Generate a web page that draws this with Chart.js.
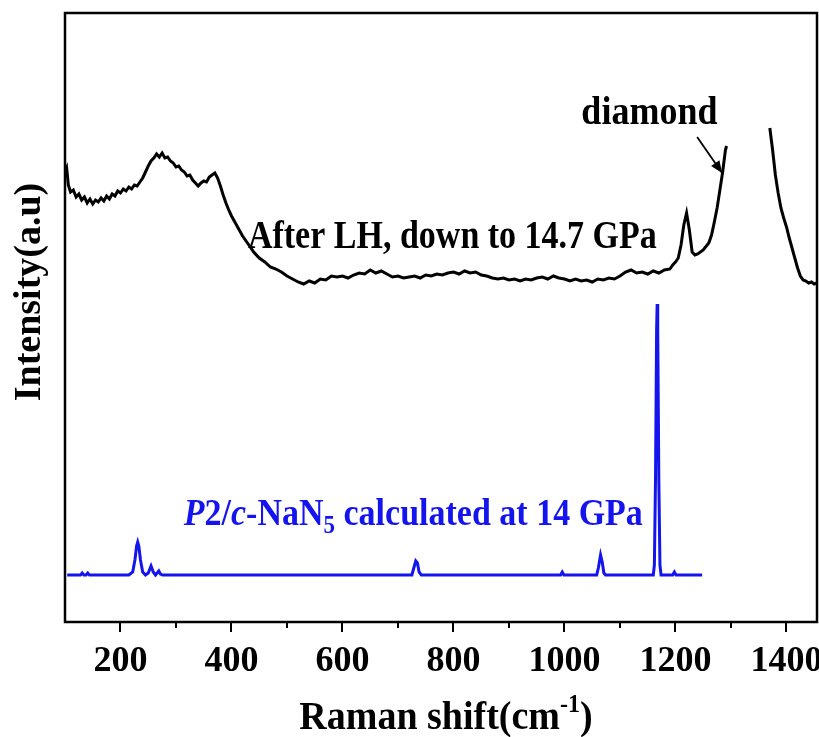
<!DOCTYPE html>
<html><head><meta charset="utf-8">
<script src="https://cdn.jsdelivr.net/npm/chart.js@4/dist/chart.umd.min.js"></script>
<style>html,body{margin:0;padding:0;background:#fff;}</style>
</head><body>
<canvas id="c" width="819" height="737"></canvas>
<script>
// ---- data ----
const X_TICKS = [200, 400, 600, 800, 1000, 1200, 1400];
const X_MINOR = [300, 500, 700, 900, 1100, 1300];

// Experimental spectrum (After LH, down to 14.7 GPa), arbitrary units
const expX = [100,103,106,110,115,120,125,130,135,140,145,150,155,160,165,170,175,180,185,190,195,200,205,210,215,220,225,230,235,240,245,250,255,260,265,270,275,280,285,290,295,300,305,310,315,320,325,330,335,340,345,350,355,360,365,370,375,380,385,390,395,400,410,420,430,440,450,460,470,480,490,500,510,520,530,540,550,560,570,580,590,600,610,620,630,640,650,660,670,680,690,700,710,720,730,740,750,760,770,780,790,800,810,820,830,840,850,860,870,880,890,900,910,920,930,940,950,960,970,980,990,1000,1010,1020,1030,1040,1050,1060,1070,1080,1090,1100,1110,1120,1130,1140,1150,1160,1170,1180,1190,1195,1200,1205,1210,1215,1220,1225,1230,1235,1240,1250,1260,1265,1270,1275,1280,1285,1290,1292,1330,1370,1375,1380,1385,1390,1395,1400,1405,1410,1415,1420,1425,1430,1435,1440,1445,1450,1455];
const expY = [450,454,437,430,432,425,428,422,425,419,423,418,422,420,424,421,426,423,428,426,431,429,433,431,435,433,437,436,440,444,450,456,461,464,468,465,469,464,465,461,459,455,456,452,450,446,447,442,439,436,439,441,440,445,447,449,444,436,427,419,412,406,396,386,378,370,364,360,355,353,350,346,343,340,338,341,339,343,342,346,345,346,344,347,349,348,352,349,351,348,345,346,344,345,346,344,347,346,348,347,349,350,348,351,349,350,347,346,344,343,344,342,343,341,343,342,344,345,343,346,344,343,341,343,341,342,340,343,342,344,343,346,350,352,349,350,348,351,349,352,353,357,360,364,377,397,409,392,370,367,368,372,379,387,400,414,432,450,472,476,null,494,472,447,429,414,404,395,384,374,364,354,346,342,341,339,340,338,339];

// Calculated spectrum (P2/c-NaN5 at 14 GPa), arbitrary units
const calcX = [104,128,131,134,138,141,144,215,222,226,229,231,233,236,240,245,250,255,259,263,266,269,272,276,725,728,732,735,738,742,993,996,999,1058,1061,1065,1068,1071,1074,1160,1162,1164,1166,1167,1168,1170,1172,1174,1195,1198,1201,1248];
const calcY = [47,47,49,47,47,49,47,47,50,62,76,80,76,62,50,47,49,56,50,47,49,51,48,47,47,53,61,59,50,47,47,50,47,47,54,67,60,49,47,47,57,142,292,318,292,142,57,47,47,50,47,47];

const X_MIN = 100, X_MAX = 1455, Y_MIN = 0, Y_MAX = 609;

// ---- chart ----
const SERIF = '"Liberation Serif", "Times New Roman", serif';
const BLUE = '#1414ee';

const toXY = (xs, ys) => xs.map((x, i) => ({x: x, y: ys[i]}));

function drawRuns(ctx, runs, x, y, align, sy) {
  ctx.save();
  ctx.translate(0, y);
  ctx.scale(1, sy || 1);
  ctx.textAlign = 'left'; ctx.textBaseline = 'alphabetic';
  let total = 0;
  runs.forEach(r => { ctx.font = r.f; r.w = ctx.measureText(r.t).width; total += r.w; });
  let cx = align === 'center' ? x - total / 2 : x;
  runs.forEach(r => { ctx.font = r.f; ctx.fillText(r.t, cx, r.dy); cx += r.w; });
  ctx.restore();
}

const decor = {
  id: 'decor',
  afterDraw(chart) {
    const ctx = chart.ctx, xs = chart.scales.x, ys = chart.scales.y, a = chart.chartArea;
    ctx.save();
    // frame
    ctx.strokeStyle = '#000'; ctx.lineWidth = 2.5;
    ctx.strokeRect(a.left, a.top, a.right - a.left, a.bottom - a.top);
    // minor ticks
    ctx.lineWidth = 2;
    X_MINOR.forEach(v => {
      const px = Math.round(xs.getPixelForValue(v));
      ctx.beginPath(); ctx.moveTo(px, a.bottom); ctx.lineTo(px, a.bottom + 6); ctx.stroke();
    });
    ctx.fillStyle = '#000';
    // y title
    ctx.save();
    ctx.translate(30, 292);
    ctx.rotate(-Math.PI / 2);
    ctx.font = 'bold 38px ' + SERIF;
    ctx.textAlign = 'center'; ctx.textBaseline = 'middle';
    ctx.fillText('Intensity(a.u)', 0, 0);
    ctx.restore();
    // x title with superscript
    drawRuns(ctx, [
      {t: 'Raman shift(cm', f: 'bold 38px ' + SERIF, dy: 0},
      {t: '-1', f: 'bold 24px ' + SERIF, dy: -16},
      {t: ')', f: 'bold 38px ' + SERIF, dy: 0}
    ], 446, 729, 'center', 1.05);
    // annotations
    drawRuns(ctx, [{t: 'After LH, down to 14.7 GPa', f: 'bold 34px ' + SERIF, dy: 0}],
      xs.getPixelForValue(798), ys.getPixelForValue(374), 'center', 1.15);
    drawRuns(ctx, [{t: 'diamond', f: 'bold 36px ' + SERIF, dy: 0}],
      xs.getPixelForValue(1153), ys.getPixelForValue(498), 'center', 1.12);
    // arrow
    const x1 = xs.getPixelForValue(1239), y1 = ys.getPixelForValue(485);
    const x2 = xs.getPixelForValue(1284), y2 = ys.getPixelForValue(449);
    ctx.lineWidth = 1.8;
    ctx.beginPath(); ctx.moveTo(x1, y1); ctx.lineTo(x2, y2); ctx.stroke();
    const ang = Math.atan2(y2 - y1, x2 - x1), L = 13, W = 0.4;
    ctx.beginPath();
    ctx.moveTo(x2, y2);
    ctx.lineTo(x2 - L * Math.cos(ang - W), y2 - L * Math.sin(ang - W));
    ctx.lineTo(x2 - L * Math.cos(ang + W), y2 - L * Math.sin(ang + W));
    ctx.closePath(); ctx.fill();
    // blue label
    ctx.fillStyle = BLUE;
    drawRuns(ctx, [
      {t: 'P', f: 'italic bold 34px ' + SERIF, dy: 0},
      {t: '2/', f: 'bold 34px ' + SERIF, dy: 0},
      {t: 'c', f: 'italic bold 34px ' + SERIF, dy: 0},
      {t: '-NaN', f: 'bold 34px ' + SERIF, dy: 0},
      {t: '5', f: 'bold 23px ' + SERIF, dy: 7},
      {t: ' calculated at 14 GPa', f: 'bold 34px ' + SERIF, dy: 0}
    ], xs.getPixelForValue(314), ys.getPixelForValue(97), 'left', 1.12);
    ctx.restore();
  }
};

new Chart(document.getElementById('c'), {
  type: 'line',
  data: {
    datasets: [
      {label: 'After LH, down to 14.7 GPa', data: toXY(expX, expY), borderColor: '#000', borderWidth: 3, pointRadius: 0, tension: 0, spanGaps: false},
      {label: 'P2/c-NaN5 calculated at 14 GPa', data: toXY(calcX, calcY), borderColor: BLUE, borderWidth: 3, pointRadius: 0, tension: 0}
    ]
  },
  options: {
    responsive: false,
    animation: false,
    layout: {padding: {top: 13, right: 2, left: 0, bottom: 0}},
    plugins: {legend: {display: false}, tooltip: {enabled: false}},
    scales: {
      x: {
        type: 'linear', min: X_MIN, max: X_MAX,
        afterBuildTicks: s => { s.ticks = X_TICKS.map(v => ({value: v})); },
        afterFit: s => { s.height = 115; s.paddingLeft = 0; s.paddingRight = 0; },
        ticks: {color: '#000', font: {family: SERIF, size: 36, weight: 'bold'}, padding: 8, maxRotation: 0, autoSkip: false,
                callback: v => String(v)},
        grid: {drawOnChartArea: false, drawTicks: true, tickLength: 10, color: '#000', lineWidth: 2},
        border: {display: false}
      },
      y: {
        min: Y_MIN, max: Y_MAX,
        afterFit: s => { s.width = 65; s.paddingTop = 0; s.paddingBottom = 0; },
        ticks: {display: false},
        grid: {display: false},
        border: {display: false}
      }
    }
  },
  plugins: [decor]
});
</script>
</body></html>
